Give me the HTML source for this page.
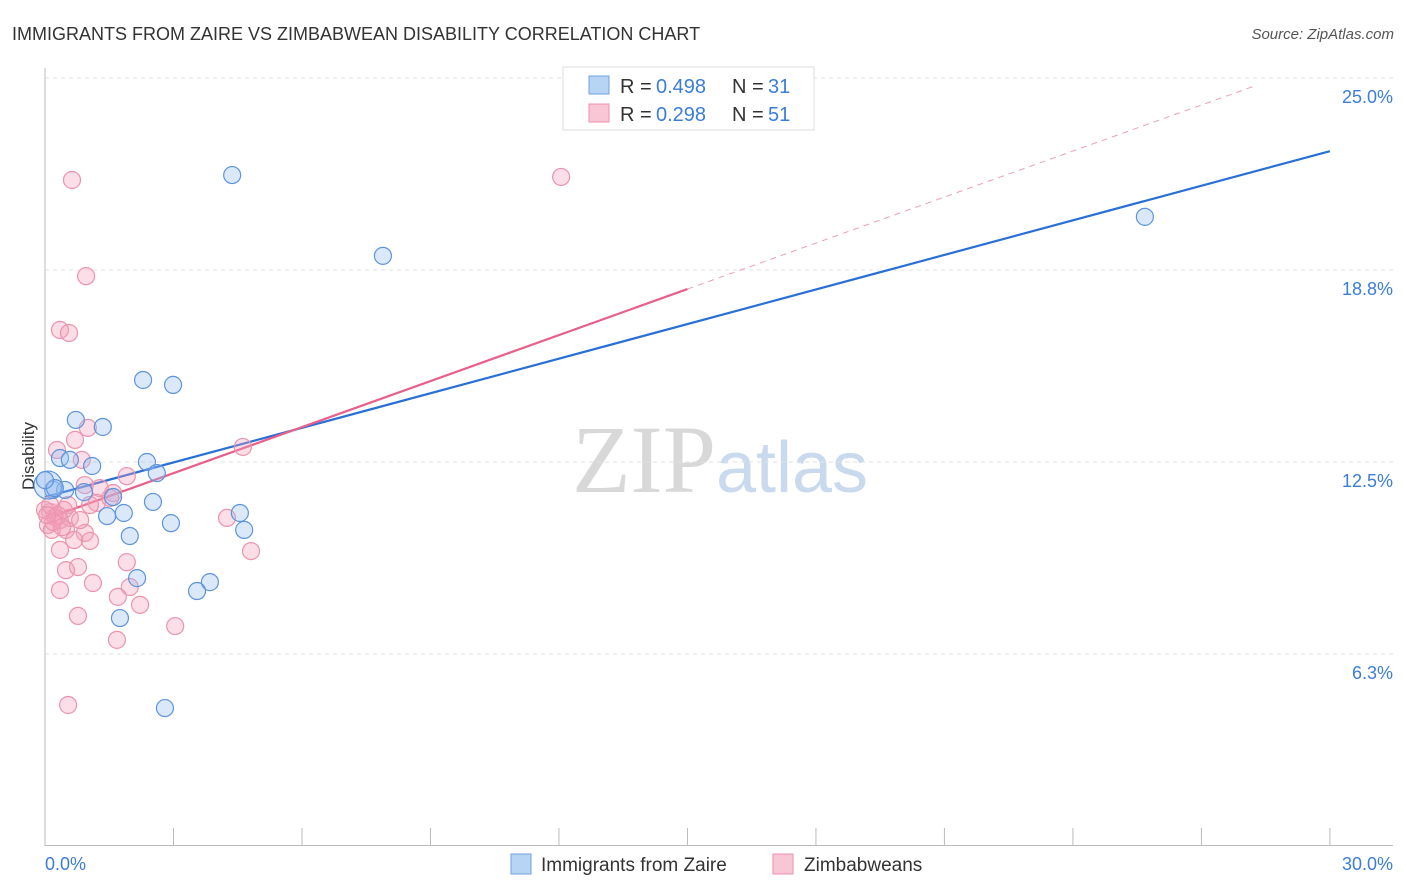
<!DOCTYPE html>
<html><head><meta charset="utf-8"><style>
body{margin:0;background:#fff;font-family:"Liberation Sans",sans-serif}
svg{display:block}
</style></head><body>
<svg width="1406" height="892" id="c">
<text x="12" y="40" font-size="18" fill="#333">IMMIGRANTS FROM ZAIRE VS ZIMBABWEAN DISABILITY CORRELATION CHART</text>
<text x="1394" y="39" font-size="15" fill="#555" font-style="italic" text-anchor="end">Source: ZipAtlas.com</text>
<text x="720" y="492" font-size="96" fill="#ddd" text-anchor="middle" font-family="Liberation Serif,serif"><tspan fill="#d8d8d8">ZIP</tspan><tspan fill="#c9d9ee" font-family="Liberation Sans,sans-serif" font-size="72">atlas</tspan></text>
<text x="34" y="456" font-size="17" fill="#333" text-anchor="middle" transform="rotate(-90 34 456)">Disability</text>
<g id="grid"></g><g id="axes"></g><g id="lines"></g><g id="pts"></g>
<g>
<rect x="563" y="67" width="251" height="63" fill="#fff" stroke="#ddd"/>
<rect x="589" y="76" width="20" height="18" fill="#b8d4f5" stroke="#6fa0e0"/>
<rect x="589" y="104" width="20" height="18" fill="#f9c6d5" stroke="#ee90ad"/>
<g font-size="20">
<text x="620" y="93" fill="#333">R =</text><text x="656" y="93" fill="#3b7dd8">0.498</text>
<text x="732" y="93" fill="#333">N =</text><text x="768" y="93" fill="#3b7dd8">31</text></g>
<g font-size="20">
<text x="620" y="121" fill="#333">R =</text><text x="656" y="121" fill="#3b7dd8">0.298</text>
<text x="732" y="121" fill="#333">N =</text><text x="768" y="121" fill="#3b7dd8">51</text></g>
</g>
<g>
<rect x="511" y="854" width="20" height="20" fill="#b8d4f5" stroke="#6fa0e0"/>
<text x="541" y="871" font-size="19" fill="#333">Immigrants from Zaire</text>
<rect x="773" y="854" width="20" height="20" fill="#f9c6d5" stroke="#ee90ad"/>
<text x="804" y="871" font-size="19" fill="#333">Zimbabweans</text>
</g>
</svg>
<script>
const yTicks=[6.25,12.5,18.75,25];
const yTickLabels=["6.3%","12.5%","18.8%","25.0%"];
const xTicks=[0,3,6,9,12,15,18,21,24,27,30];
const xEndLabels=["0.0%","30.0%"];
const zaireX=[4.37,7.89,25.68,2.29,2.99,0.72,1.35,0.35,1.10,2.38,2.61,0.19,0.47,0.91,1.59,2.52,1.84,1.45,4.55,2.94,4.65,1.98,2.15,3.85,3.55,1.75,2.80,0.07,0.23,0.58,0.0];
const zaireY=[21.84,19.21,20.48,15.17,15.01,13.87,13.64,12.63,12.37,12.50,12.14,11.59,11.59,11.52,11.36,11.20,10.84,10.74,10.84,10.51,10.29,10.09,8.72,8.59,8.30,7.42,4.49,11.75,11.65,12.57,11.91];
const zimX=[0.63,12.05,0.96,0.35,0.56,0.28,0.70,1.00,0.86,0.93,1.91,1.59,1.21,4.62,0.54,0.44,0.12,0.23,0.35,0.07,0.16,0.49,0.93,1.05,0.68,0.35,0.77,0.49,1.12,1.91,1.98,0.35,1.70,2.22,0.77,3.04,1.68,0.54,4.25,4.81,1.05,1.52,1.28,0.0,0.12,0.30,0.58,0.19,0.40,0.05,0.82];
const zimY=[21.68,21.78,18.55,16.80,16.70,12.89,13.22,13.61,12.57,11.75,12.04,11.49,11.17,12.99,11.10,10.94,10.87,10.71,10.61,10.45,10.29,10.29,10.19,9.93,9.96,9.64,9.08,8.98,8.56,9.24,8.43,8.33,8.11,7.85,7.49,7.16,6.71,4.59,10.68,9.60,11.10,11.33,11.65,10.94,11.10,10.77,10.68,10.55,10.38,10.77,10.61];
const zaireTrend=[11.36,0.3753];
const zimTrend=[10.64,0.4993];
const sx=v=>45+v*42.83, sy=v=>846-v*30.72;
const NS="http://www.w3.org/2000/svg";
function mk(t,a,p){const e=document.createElementNS(NS,t);for(const k in a)e.setAttribute(k,a[k]);p.appendChild(e);return e;}
const grid=document.getElementById('grid'),axes=document.getElementById('axes'),lines=document.getElementById('lines'),pts=document.getElementById('pts');
yTicks.forEach((v,i)=>{
 const l=mk('line',{x1:45,x2:1393,y1:sy(v),y2:sy(v),stroke:'#e2e2e2','stroke-dasharray':'4,4'},grid);
 
 
 const t=mk('text',{x:1393,y:sy(v)+25,'font-size':18,fill:'#3b7dd8','text-anchor':'end'},grid);
 t.textContent=yTickLabels[i];
 
 
});
const ya=mk('line',{x1:45,x2:45,y1:68,y2:846,stroke:'#bbb'},axes);


const xa=mk('line',{x1:45,x2:1393,y1:845.5,y2:845.5,stroke:'#bbb'},axes);


xTicks.forEach(v=>{
 const l=mk('line',{x1:sx(v),x2:sx(v),y1:828,y2:846,stroke:'#bbb'},axes);
 
 
});
[[0,'start',45],[30,'end',1393]].forEach((d,i)=>{
 const t=mk('text',{x:d[2],y:870,'font-size':18,fill:'#3b7dd8','text-anchor':d[1]},axes);
 t.textContent=xEndLabels[i];
 
 
});
const zl=mk('line',{x1:sx(0),y1:sy(zaireTrend[0]),x2:sx(30),y2:sy(zaireTrend[0]+zaireTrend[1]*30),stroke:'#2a6fd6','stroke-width':2.2},lines);


const pl=mk('line',{x1:sx(0),y1:sy(zimTrend[0]),x2:sx(15),y2:sy(zimTrend[0]+zimTrend[1]*15),stroke:'#e8608a','stroke-width':2.2},lines);


const pd=mk('line',{x1:sx(15),y1:sy(zimTrend[0]+zimTrend[1]*15),x2:sx(28.25),y2:sy(zimTrend[0]+zimTrend[1]*28.25),stroke:'#eaa0b6','stroke-width':1,'stroke-dasharray':'6,5'},lines);


zimX.forEach((x,i)=>{
 const c=mk('circle',{cx:sx(x),cy:sy(zimY[i]),r:8.5,fill:'rgba(244,160,185,0.35)',stroke:'#ec94ae','stroke-width':1.2},pts);
 
 
});
zaireX.forEach((x,i)=>{
 const c=mk('circle',{cx:sx(x),cy:sy(zaireY[i]),r:i==27?14:8.5,fill:'rgba(150,190,240,0.35)',stroke:'#5d94dc','stroke-width':1.2},pts);
 
 
});
</script>
</body></html>
